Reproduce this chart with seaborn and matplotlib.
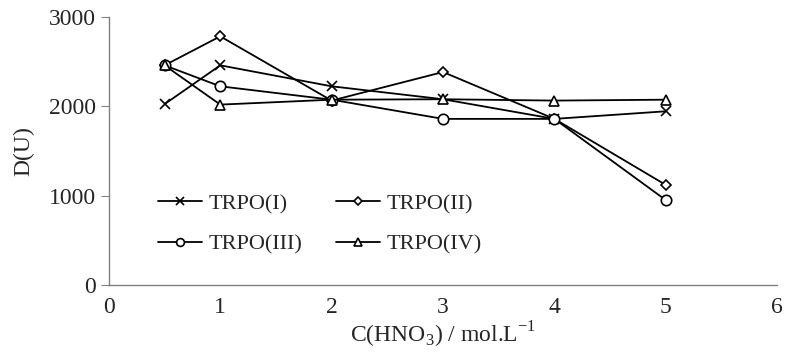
import matplotlib
matplotlib.use("Agg")
import matplotlib.pyplot as plt
import pandas as pd
import seaborn as sns

# Data
conc = [0.5, 1, 2, 3, 4, 5]
trpo_1 = [2025, 2460, 2225, 2080, 1860, 1945]
trpo_2 = [2460, 2785, 2065, 2385, 1860, 1120]
trpo_3 = [2460, 2225, 2075, 1860, 1860, 950]
trpo_4 = [2460, 2020, 2075, 2080, 2065, 2075]
names = ["TRPO(I)", "TRPO(II)", "TRPO(III)", "TRPO(IV)"]
markers = ["x", "D", "o", "^"]

sns.set_style("white")
plt.rcParams["font.family"] = "serif"
plt.rcParams["font.serif"] = ["Liberation Serif", "DejaVu Serif"]
plt.rcParams["mathtext.fontset"] = "custom"
plt.rcParams["mathtext.rm"] = "Liberation Serif"

fig, ax = plt.subplots(figsize=(7.89, 3.57), dpi=100)
fig.subplots_adjust(left=0.138, right=0.985, top=0.952, bottom=0.202)

for name, vals, mk in zip(names, [trpo_1, trpo_2, trpo_3, trpo_4], markers):
    df = pd.DataFrame({"x": conc, "y": vals})
    sns.lineplot(data=df, x="x", y="y", ax=ax, color="black", lw=1.3,
                 marker=mk, markersize=7.5 if mk != "D" else 5.5,
                 mfc="white", mec="black", mew=1.2, label=name)

ax.set_xlim(0, 6)
ax.set_ylim(0, 3000)
ax.set_xticks(range(0, 7))
ax.set_yticks([0, 1000, 2000, 3000])
ax.tick_params(axis="x", direction="in", length=6, color="#808080", labelsize=17, pad=9)
ax.tick_params(axis="y", direction="out", length=6, color="#808080", labelsize=17, left=True)
for side in ["top", "right"]:
    ax.spines[side].set_visible(False)
for side in ["left", "bottom"]:
    ax.spines[side].set_color("#808080")
    ax.spines[side].set_linewidth(1.0)

ax.set_xlabel("C(HNO$_3$) / mol.L$^{-1}$", fontsize=17, labelpad=1)
ax.set_ylabel("D(U)", fontsize=17, labelpad=10)

# row-major legend order: I, II / III, IV
h, l = ax.get_legend_handles_labels()
order = [0, 2, 1, 3]
ax.legend([h[i] for i in order], [l[i] for i in order],
          loc="lower left", bbox_to_anchor=(0.043, 0.038), ncol=2, frameon=False,
          fontsize=16, handlelength=2.0, columnspacing=1.5, handletextpad=0.3,
          labelspacing=0.9, markerscale=0.75)

fig.savefig("out.png", dpi=100)
